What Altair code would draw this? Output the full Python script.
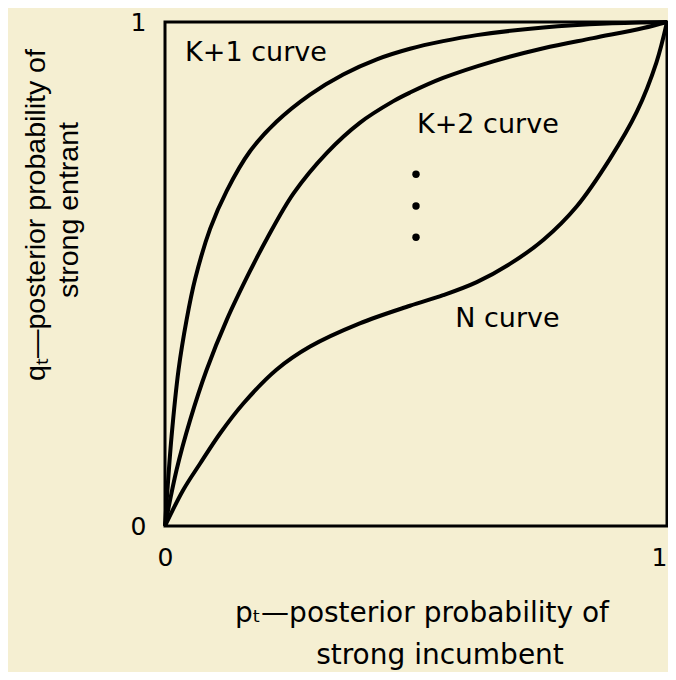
import altair as alt
import pandas as pd

# Curves (p_t on x, q_t on y)
k1_p = [0, 0.003, 0.013, 0.027, 0.043, 0.060, 0.090, 0.123, 0.169, 0.222, 0.289, 0.355, 0.422, 0.488, 0.554, 0.621, 0.754, 0.880, 1.0]
k1_q = [0, 0.045, 0.177, 0.310, 0.409, 0.490, 0.590, 0.665, 0.743, 0.802, 0.856, 0.896, 0.926, 0.947, 0.962, 0.974, 0.989, 0.997, 1.0]

k2_p = [0, 0.023, 0.050, 0.083, 0.123, 0.169, 0.203, 0.256, 0.322, 0.388, 0.455, 0.488, 0.554, 0.654, 0.754, 0.853, 0.953, 1.0]
k2_q = [0, 0.111, 0.210, 0.310, 0.409, 0.505, 0.570, 0.660, 0.740, 0.800, 0.843, 0.860, 0.889, 0.922, 0.948, 0.968, 0.988, 1.0]

n_p = [0, 0.036, 0.070, 0.110, 0.156, 0.222, 0.289, 0.388, 0.488, 0.554, 0.621, 0.687, 0.754, 0.820, 0.886, 0.940, 0.979, 1.0]
n_q = [0, 0.071, 0.124, 0.184, 0.243, 0.310, 0.356, 0.402, 0.437, 0.458, 0.484, 0.520, 0.568, 0.634, 0.728, 0.822, 0.920, 1.0]

label_text = ["K+1 curve", "K+2 curve", "N curve"]
label_p = [0.040, 0.502, 0.578]
label_q = [0.938, 0.796, 0.411]

dot_p = [0.500, 0.500, 0.500]
dot_q = [0.698, 0.635, 0.573]

tick_values = [0, 1]

x_title = ["p\u209c\u2014posterior probability of", "strong incumbent"]
y_title = ["q\u209c\u2014posterior probability of", "strong entrant"]

BG = "#f5efd2"

rows = []
for name, ps, qs in [("K+1", k1_p, k1_q), ("K+2", k2_p, k2_q), ("N", n_p, n_q)]:
    for i, (p, q) in enumerate(zip(ps, qs)):
        rows.append({"curve": name, "p": p, "q": q, "order": i})
curves = pd.DataFrame(rows)
labels = pd.DataFrame({"p": label_p, "q": label_q, "text": label_text})
dots = pd.DataFrame({"p": dot_p, "q": dot_q})

xs = alt.Scale(domain=[0, 1], nice=False, zero=False)
ys = alt.Scale(domain=[0, 1], nice=False, zero=False)

axis_common = dict(values=tick_values, title=None, grid=False, ticks=False, domain=False,
                   labelFontSize=25, labelFont="DejaVu Sans", labelColor="black",
                   labelFlush=False, format="d", labelPadding=19)

x_axis = alt.Axis(labelAlign=alt.expr("datum.value == 1 ? 'right' : 'center'"), **axis_common)
y_axis = alt.Axis(**axis_common)

lines = alt.Chart(curves).mark_line(color="black", strokeWidth=4, interpolate="catmull-rom", clip=False).encode(
    x=alt.X("p:Q", scale=xs, axis=x_axis),
    y=alt.Y("q:Q", scale=ys, axis=y_axis),
    detail="curve:N",
    order="order:Q",
)

text_marks = alt.Chart(labels).mark_text(align="left", baseline="middle", font="DejaVu Sans",
                                         fontSize=27, color="black").encode(
    x=alt.X("p:Q", scale=xs), y=alt.Y("q:Q", scale=ys), text="text:N")

dot_marks = alt.Chart(dots).mark_circle(color="black", size=55, opacity=1).encode(
    x=alt.X("p:Q", scale=xs), y=alt.Y("q:Q", scale=ys))

xt1 = alt.Chart(pd.DataFrame({"t": [x_title[0]]})).mark_text(
    align="center", baseline="alphabetic", font="DejaVu Sans", fontSize=28, color="black").encode(
    x=alt.value(257), y=alt.value(600), text="t:N")
xt2 = alt.Chart(pd.DataFrame({"t": [x_title[1]]})).mark_text(
    align="center", baseline="alphabetic", font="DejaVu Sans", fontSize=28, color="black").encode(
    x=alt.value(275), y=alt.value(642), text="t:N")

yt1 = alt.Chart(pd.DataFrame({"t": [y_title[0]]})).mark_text(
    align="center", baseline="alphabetic", angle=270, font="Liberation Sans",
    fontSize=28.5, color="black").encode(
    x=alt.value(-120), y=alt.value(193), text="t:N")
yt2 = alt.Chart(pd.DataFrame({"t": [y_title[1]]})).mark_text(
    align="center", baseline="alphabetic", angle=270, font="Liberation Sans",
    fontSize=28.5, color="black").encode(
    x=alt.value(-87), y=alt.value(188), text="t:N")

chart = alt.layer(lines, dot_marks, text_marks, xt1, xt2, yt1, yt2).properties(
    width=502, height=504,
    padding={"left": 157, "top": 14, "right": 1, "bottom": 146},
    autosize=alt.AutoSizeParams(type="none"),
    background=BG,
).configure_view(stroke="black", strokeWidth=3, fill=BG)

chart.save("out.html", embed_options={"renderer": "svg", "actions": False})
